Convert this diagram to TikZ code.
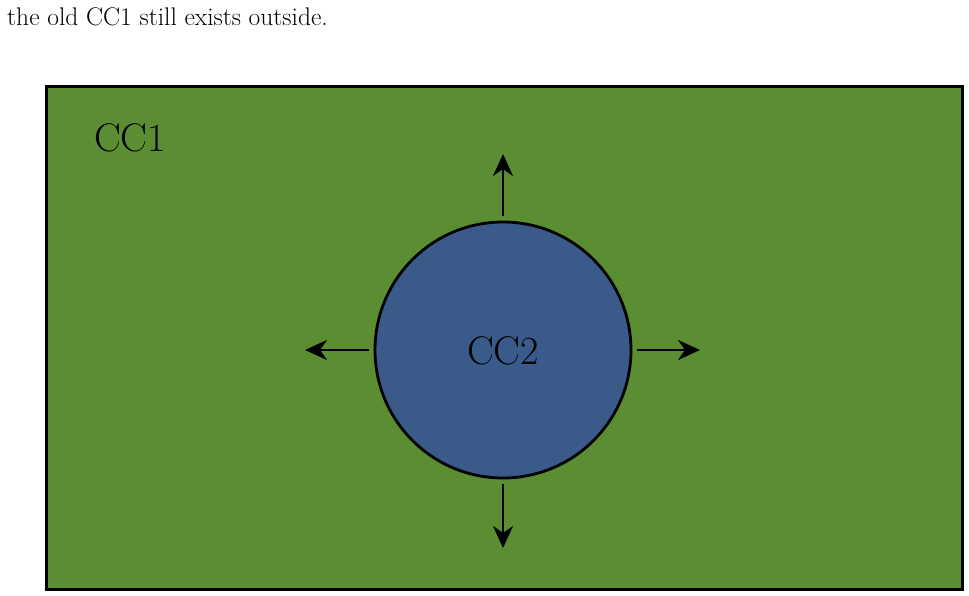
\documentclass[tikz,border=0pt]{standalone}
\usetikzlibrary{arrows.meta}
\definecolor{ccgreen}{RGB}{91,142,50}
\definecolor{ccblue}{RGB}{58,90,138}
\begin{document}
\begin{tikzpicture}[x=1pt,y=-1pt,
  region/.style={draw=black, line width=2.8pt, inner sep=0pt},
  arr/.style={line width=2.8pt, -{Stealth[length=22pt,width=20pt,inset=7pt]}},
  label/.style={font=\fontsize{40}{44}\selectfont, inner sep=0pt}]
\useasboundingbox (0,0) rectangle (969,596);
\node[anchor=base west, inner sep=0pt, font=\fontsize{25.5}{30}\selectfont] (cap) at (7,26) {the old CC1 still exists outside.};
\node[region, fill=ccgreen, anchor=north west, minimum width=916pt, minimum height=503pt] (cc1) at (45,85) {};
\node[label, anchor=base west] (cc1lbl) at (94,152) {CC1};
\node[region, circle, fill=ccblue, minimum size=256pt] (cc2) at (503,350) {};
\node[label, anchor=base] (cc2lbl) at (503,364) {CC2};
\coordinate (up) at (503,154);
\coordinate (dn) at (503,548);
\coordinate (lf) at (305,350);
\coordinate (rt) at (700,350);
\draw[arr] ([yshift=5pt]cc2.north) -- (up);
\draw[arr] ([yshift=-5pt]cc2.south) -- (dn);
\draw[arr] ([xshift=-5pt]cc2.west) -- (lf);
\draw[arr] ([xshift=5pt]cc2.east) -- (rt);
\end{tikzpicture}
\end{document}
